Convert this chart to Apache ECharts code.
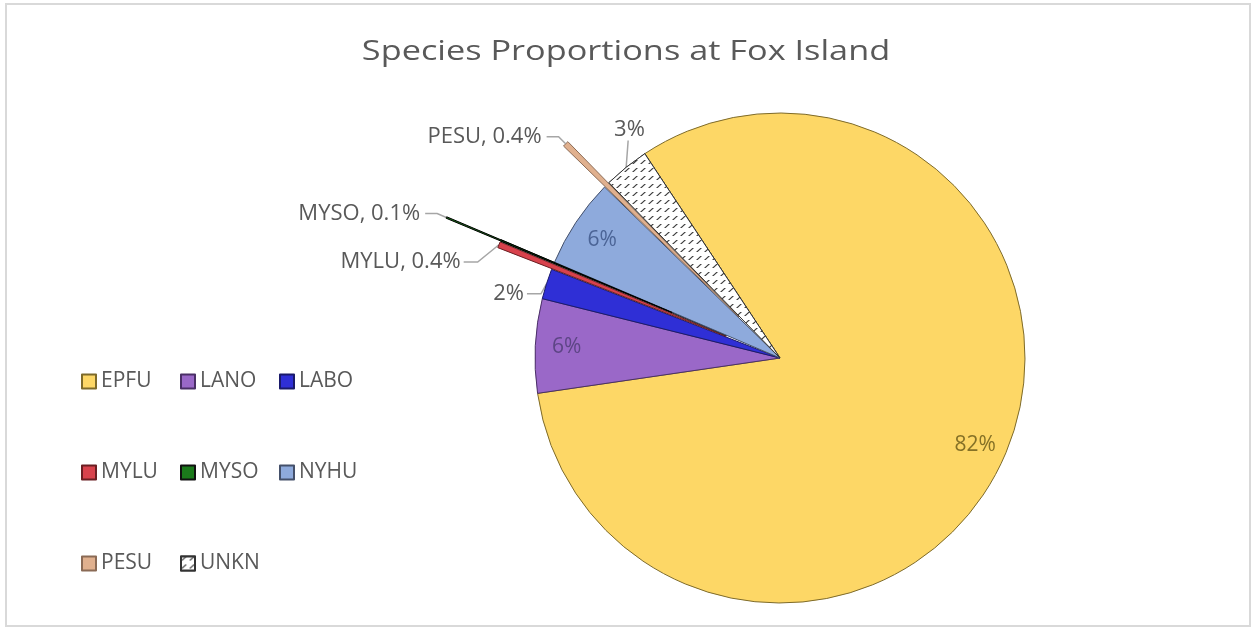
<!DOCTYPE html>
<html>
<head>
<meta charset="utf-8">
<script src="https://cdn.jsdelivr.net/npm/echarts@6/dist/echarts.min.js"></script>
<style>
  html, body { margin: 0; padding: 0; background: #fff; }
  #chart { width: 1253px; height: 628px; }
</style>
</head>
<body>
<div id="chart"></div>
<script>
// species and share of detections (%)
var species = ['EPFU', 'LANO', 'LABO', 'MYLU', 'MYSO', 'NYHU', 'PESU', 'UNKN'];
var shares = [82.0, 6.2, 2.0, 0.4, 0.1, 5.9, 0.4, 3.0];
var colors = ['#fdd766', '#9a68c8', '#2f2fd6', '#d8424c', '#1b7a1b', '#8eaadc', '#e0b08e', '#ffffff'];
var borders = ['#7d6a2a', '#4a2f66', '#1a1a6a', '#6a1e22', '#111111', '#44506a', '#8a6a55', '#333333'];
var insideLabel = ['#857126', '#5d4585', '', '', '', '#4b6496', '', ''];
var exploded = ['PESU', 'MYLU', 'MYSO'];

var textGray = '#595959';
var font = 'Open Sans';

/* rows of little slashes for UNKN */
var hatch = {
  symbol: 'path://M0,8 L2.2,8 L8,0 L5.8,0 Z',
  symbolSize: 1,
  symbolKeepAspect: false,
  color: '#3a3a3a',
  backgroundColor: '#fff',
  dashArrayX: [[6, 2]],
  dashArrayY: [4, 4],
  rotation: 0
};

function fmt(p) {
  if (p.percent < 1) return p.name + ', ' + p.percent.toFixed(1) + '%';
  return Math.round(p.percent) + '%';
}

/* small nudges so outside labels sit where Excel put them */
var nudge = {
  2: { dx: 4, dy: 13 },
  3: { dx: -12, dy: 21 },
  7: { dx: 42, dy: -30, above: true }
};

function moveLabel(p) {
  var n = nudge[p.dataIndex];
  if (!n) return;
  var r = p.labelRect;
  var start = p.labelLinePoints[0];
  var x = r.x + n.dx, y = r.y + n.dy;
  var pts;
  if (n.above) {
    var by = y + r.height;
    pts = [start, [start[0] + 1, (start[1] + by) / 2], [start[0] + 2, by]];
  } else {
    var ey = y + r.height / 2, ex = x + r.width + 3;
    pts = [start, [ex + 14, ey], [ex, ey]];
  }
  return { dx: n.dx, dy: n.dy, labelLinePoints: pts };
}

/* main pie */
var mainData = species.map(function (s, i) {
  var item = {
    name: s,
    value: shares[i],
    selected: exploded.indexOf(s) >= 0,
    itemStyle: { color: colors[i], borderColor: borders[i], borderWidth: 1 },
    label: { show: !insideLabel[i] && s !== 'MYSO' },
    labelLine: { show: !insideLabel[i] && s !== 'MYSO' }
  };
  if (s === 'UNKN') item.itemStyle.decal = hatch;
  return item;
});

/* MYSO pulled out further than the others */
var mysoData = species.map(function (s, i) {
  var on = s === 'MYSO';
  return {
    name: s,
    value: shares[i],
    selected: on,
    itemStyle: on ? { color: colors[i], borderColor: '#000', borderWidth: 1 }
                  : { color: 'rgba(0,0,0,0)', borderWidth: 0 },
    label: { show: on },
    labelLine: { show: on }
  };
});

/* labels that sit inside the big slices */
var innerData = species.map(function (s, i) {
  return {
    name: s,
    value: shares[i],
    itemStyle: { color: 'rgba(0,0,0,0)', borderWidth: 0 },
    label: { show: !!insideLabel[i], color: insideLabel[i] || textGray }
  };
});

var center = [780, 358];
var R = 245;
var startAngle = 123.5;

var outsideLabel = {
  position: 'outside',
  formatter: fmt,
  color: textGray,
  fontFamily: font,
  fontSize: 22
};
var leader = { length: 10, length2: 12, lineStyle: { color: '#a6a6a6', width: 1.5 } };

var columns = [0, 1, 2].map(function (c) {
  return species.filter(function (s, i) { return i % 3 === c; });
});

var option = {
  animation: false,
  legend: columns.map(function (col, c) {
    return {
      data: col,
      orient: 'vertical',
      left: 76 + c * 99,
      top: 366,
      itemWidth: 14,
      itemHeight: 14,
      itemGap: 70,
      icon: 'rect',
      selectedMode: false,
      textStyle: { fontFamily: font, fontSize: 21, color: textGray }
    };
  }),
  graphic: [{
    type: 'rect',
    shape: { x: 6, y: 4, width: 1244, height: 622 },
    style: { fill: 'none', stroke: '#d9d9d9', lineWidth: 2 },
    silent: true
  }, {
    type: 'text',
    x: 626,
    y: 52,
    scaleX: 1.27,
    style: {
      text: 'Species Proportions at Fox Island',
      fontFamily: font,
      fontSize: 27,
      fill: textGray,
      align: 'center',
      verticalAlign: 'middle'
    },
    silent: true
  }],
  series: [
    {
      type: 'pie',
      center: center,
      radius: R,
      startAngle: startAngle,
      selectedMode: 'multiple',
      selectedOffset: 58,
      avoidLabelOverlap: false,
      label: outsideLabel,
      labelLine: leader,
      labelLayout: moveLabel,
      emphasis: { disabled: true },
      data: mainData
    },
    {
      type: 'pie',
      center: center,
      radius: R,
      startAngle: startAngle,
      selectedMode: 'single',
      selectedOffset: 117,
      silent: true,
      label: outsideLabel,
      labelLine: leader,
      emphasis: { disabled: true },
      data: mysoData
    },
    {
      type: 'pie',
      center: center,
      radius: [R * 0.72, R],
      startAngle: startAngle,
      silent: true,
      label: { position: 'inside', formatter: fmt, fontFamily: font, fontSize: 21 },
      labelLine: { show: false },
      emphasis: { disabled: true },
      data: innerData
    }
  ]
};

var chart = echarts.init(document.getElementById('chart'));
chart.setOption(option);
</script>
</body>
</html>
